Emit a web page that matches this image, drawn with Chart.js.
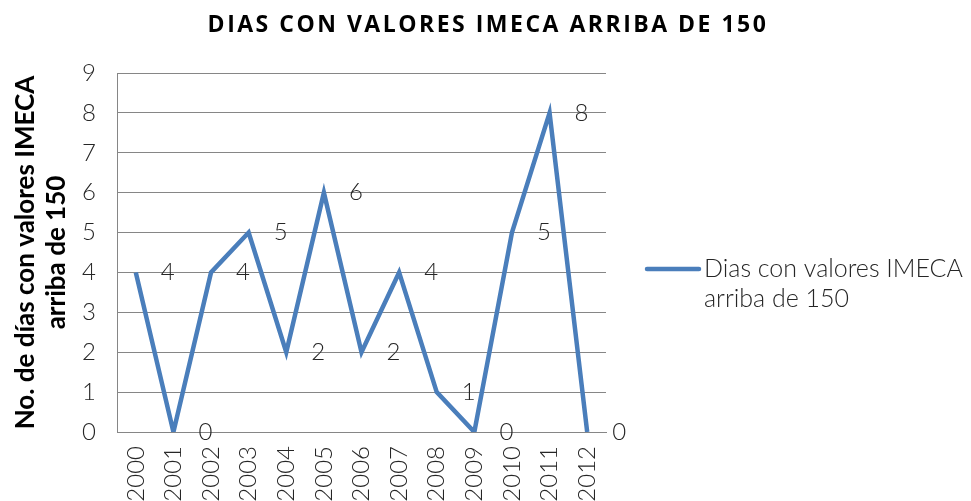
<!DOCTYPE html>
<html>
<head>
<meta charset="utf-8">
<script src="https://cdn.jsdelivr.net/npm/chart.js@4"></script>
<style>
  html, body { margin: 0; padding: 0; background: #fff; }
  #wrap { width: 971px; height: 501px; }
</style>
</head>
<body>
<div id="wrap"><canvas id="grafico" width="971" height="501"></canvas></div>
<script>
// datos
const anios = ["2000", "2001", "2002", "2003", "2004", "2005", "2006", "2007", "2008", "2009", "2010", "2011", "2012"];
const dias = [4, 0, 4, 5, 2, 6, 2, 4, 1, 0, 5, 8, 0];
const titulo = "DIAS CON VALORES IMECA ARRIBA DE 150";
const nombreSerie = ["Dias con valores IMECA", "arriba de 150"];
const tituloEjeY = ["No. de días con valores IMECA", "arriba de 150"];

const AZUL = "#4a7ebb";
const FUENTE = "Lato, 'Open Sans', sans-serif";
const TEXTO = "#262626";

// titulo centrado en todo el lienzo
const tituloGrafico = {
    id: "tituloGrafico",
    afterDraw(chart) {
        const ctx = chart.ctx;
        ctx.save();
        ctx.font = "bold 23px 'Open Sans', sans-serif";
        ctx.letterSpacing = "2.5px";
        ctx.fillStyle = "#000";
        ctx.textAlign = "center";
        ctx.textBaseline = "middle";
        ctx.fillText(titulo, 488, 25);
        ctx.restore();
    }
};

// etiquetas de valor a la derecha de cada punto
const etiquetasValor = {
    id: "etiquetasValor",
    afterDatasetsDraw(chart) {
        const ctx = chart.ctx;
        const meta = chart.getDatasetMeta(0);
        ctx.save();
        ctx.font = "300 24px " + FUENTE;
        ctx.fillStyle = TEXTO;
        ctx.textAlign = "center";
        ctx.textBaseline = "middle";
        meta.data.forEach((p, i) => {
            ctx.fillText(String(dias[i]), p.x + 32, p.y);
        });
        ctx.restore();
    }
};

// leyenda de dos lineas a la derecha
const leyenda = {
    id: "leyenda",
    afterDraw(chart) {
        const ctx = chart.ctx;
        const y = 269;
        ctx.save();
        ctx.strokeStyle = AZUL;
        ctx.lineWidth = 4.5;
        ctx.lineCap = "round";
        ctx.beginPath();
        ctx.moveTo(647, y);
        ctx.lineTo(699, y);
        ctx.stroke();
        ctx.font = "300 25px " + FUENTE;
        ctx.fillStyle = TEXTO;
        ctx.textBaseline = "middle";
        ctx.fillText(nombreSerie[0], 704, y);
        ctx.fillText(nombreSerie[1], 704, y + 30);
        ctx.restore();
    }
};

const ctx = document.getElementById("grafico").getContext("2d");
new Chart(ctx, {
    type: "line",
    data: {
        labels: anios,
        datasets: [{
            label: nombreSerie.join(" "),
            data: dias,
            borderColor: AZUL,
            backgroundColor: AZUL,
            borderWidth: 4.5,
            pointRadius: 0,
            tension: 0,
            fill: false
        }]
    },
    options: {
        responsive: false,
        animation: false,
        layout: { padding: { left: 0, right: 365, top: 73, bottom: 0 } },
        plugins: {
            legend: { display: false },
            tooltip: { enabled: false },
            title: { display: false }
        },
        scales: {
            x: {
                offset: true,
                grid: { display: false, drawTicks: false },
                border: { display: true, color: "#868686" },
                ticks: {
                    minRotation: 90,
                    maxRotation: 90,
                    padding: 14,
                    color: TEXTO,
                    font: { family: FUENTE, size: 24, weight: 300 }
                },
                afterFit(scale) { scale.height = 69; }
            },
            y: {
                min: 0,
                max: 9,
                ticks: {
                    stepSize: 1,
                    padding: 21,
                    color: TEXTO,
                    font: { family: FUENTE, size: 24, weight: 300 }
                },
                grid: { color: "#868686", lineWidth: 1, drawTicks: false },
                border: { display: true, color: "#868686" },
                title: {
                    display: true,
                    text: tituloEjeY,
                    color: "#000",
                    font: { family: FUENTE, size: 26, weight: "bold", lineHeight: 1.2 },
                    padding: { top: 10, bottom: 0 }
                },
                afterFit(scale) { scale.width = 117; }
            }
        }
    },
    plugins: [etiquetasValor, leyenda, tituloGrafico]
});
</script>
</body>
</html>
